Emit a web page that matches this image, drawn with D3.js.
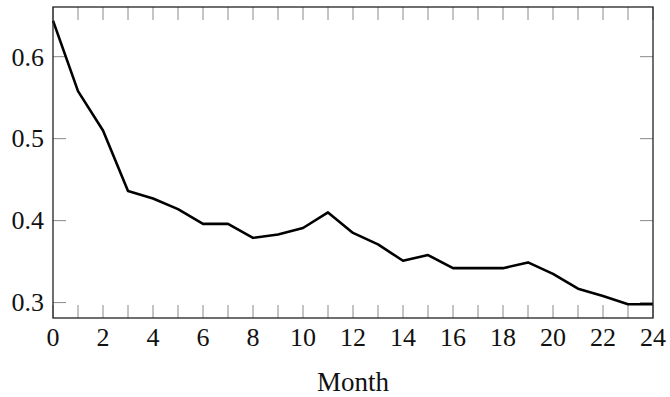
<!DOCTYPE html>
<html>
<head>
<meta charset="utf-8">
<script src="https://cdn.jsdelivr.net/npm/d3@7"></script>
<style>
    body { margin: 0; background: #fff; }
    text { font-family: "Liberation Serif", "DejaVu Serif", serif; fill: #111; }
</style>
</head>
<body>
<div id="chart"></div>
<script>
// values
const months = d3.range(0, 25);
const values = [0.644, 0.558, 0.510, 0.436, 0.427, 0.414, 0.396, 0.396, 0.379, 0.383,
    0.391, 0.410, 0.385, 0.371, 0.351, 0.358, 0.342, 0.342, 0.342, 0.349,
    0.335, 0.317, 0.308, 0.298, 0.298];
const xTicks = [0, 2, 4, 6, 8, 10, 12, 14, 16, 18, 20, 22, 24];
const yTicks = [0.3, 0.4, 0.5, 0.6];
const xLabel = "Month";

const data = months.map((m, i) => ({month: m, value: values[i]}));

const W = 670, H = 397;
const margin = {top: 7, right: 17, bottom: 79, left: 53};
const width = W - margin.left - margin.right;
const height = H - margin.top - margin.bottom;

const svg = d3.select("#chart").append("svg")
    .attr("width", W)
    .attr("height", H)
    .append("g")
    .attr("transform", "translate(" + margin.left + "," + margin.top + ")");

const x = d3.scaleLinear().domain([0, 24]).range([0, width]);
const y = d3.scaleLinear().domain([0.2812, 0.6606]).range([height, 0]);

const tickLen = 13;
const tickColor = "#8a8a8a";

// minor ticks every month, bottom and top, pointing inward
svg.append("g").selectAll("line.xb").data(months).join("line")
    .attr("x1", d => x(d)).attr("x2", d => x(d))
    .attr("y1", height).attr("y2", height - tickLen)
    .attr("stroke", tickColor).attr("stroke-width", 1);
svg.append("g").selectAll("line.xt").data(months).join("line")
    .attr("x1", d => x(d)).attr("x2", d => x(d))
    .attr("y1", 0).attr("y2", tickLen)
    .attr("stroke", tickColor).attr("stroke-width", 1);

// y ticks left and right
svg.append("g").selectAll("line.yl").data(yTicks).join("line")
    .attr("x1", 0).attr("x2", tickLen)
    .attr("y1", d => y(d)).attr("y2", d => y(d))
    .attr("stroke", tickColor).attr("stroke-width", 1);
svg.append("g").selectAll("line.yr").data(yTicks).join("line")
    .attr("x1", width - tickLen).attr("x2", width)
    .attr("y1", d => y(d)).attr("y2", d => y(d))
    .attr("stroke", tickColor).attr("stroke-width", 1);

// tick labels
svg.append("g").selectAll("text.xl").data(xTicks).join("text")
    .attr("x", d => x(d))
    .attr("y", height + 28)
    .attr("text-anchor", "middle")
    .style("font-size", "26px")
    .text(d => d);

svg.append("g").selectAll("text.yl").data(yTicks).join("text")
    .attr("x", -9)
    .attr("y", d => y(d))
    .attr("dy", "0.34em")
    .attr("text-anchor", "end")
    .style("font-size", "26px")
    .text(d => d3.format(".1f")(d));

// axis label
svg.append("text")
    .attr("x", width / 2)
    .attr("y", height + 73)
    .attr("text-anchor", "middle")
    .style("font-size", "27px")
    .text(xLabel);

// line
const line = d3.line().x(d => x(d.month)).y(d => y(d.value));
svg.append("path")
    .datum(data)
    .attr("fill", "none")
    .attr("stroke", "#000")
    .attr("stroke-width", 2.6)
    .attr("stroke-linejoin", "round")
    .attr("d", line);

// frame
svg.append("rect")
    .attr("x", 0).attr("y", 0)
    .attr("width", width).attr("height", height)
    .attr("fill", "none")
    .attr("stroke", "#222")
    .attr("stroke-width", 1.3);
</script>
</body>
</html>
